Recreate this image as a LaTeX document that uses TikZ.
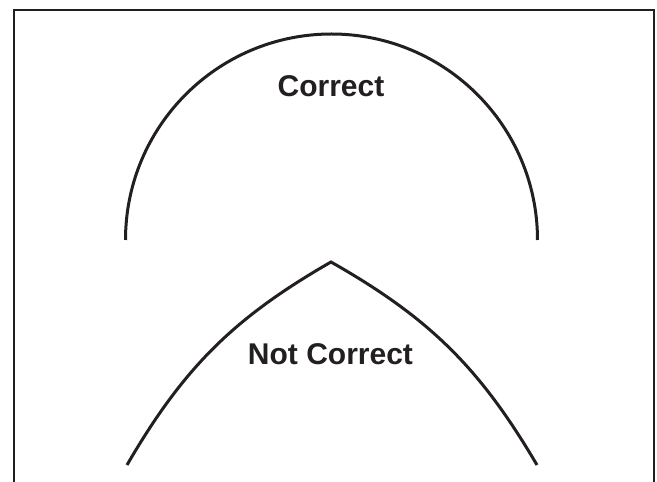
\documentclass[tikz,border=0pt]{standalone}
\usepackage{fontspec}
\setmainfont{Liberation Sans}
\usepackage{tikz}
\usetikzlibrary{calc}
\usepackage{xcolor}
\definecolor{archblack}{RGB}{35,31,32}

\begin{document}
\begin{tikzpicture}[x=1pt,y=1pt]
    \useasboundingbox (0,0) rectangle (657,482);
    \tikzset{archline/.style={line width=3pt,archblack},
             label/.style={font=\fontsize{30}{36}\selectfont\bfseries,text=archblack,anchor=base,inner sep=0pt}}

    % Frame (open at the bottom)
    \draw[line width=2pt,archblack] (14,0) -- (14,471.5) -- (654,471.5) -- (654,0);

    % Correct arch
    \draw[archline] (125.5,242) arc (180:0:206);
    \node[label] (correct) at (331,385) {Correct};

    % Not correct arch
    \coordinate (leftfoot) at (127,17);
    \coordinate (apex) at (331,220);
    \coordinate (rightfoot) at (537,17);
    \draw[archline] (leftfoot) to[bend left=15] (apex) to[bend left=15] (rightfoot);
    \node[label] (notcorrect) at (330.5,117) {Not Correct};
\end{tikzpicture}
\end{document}
